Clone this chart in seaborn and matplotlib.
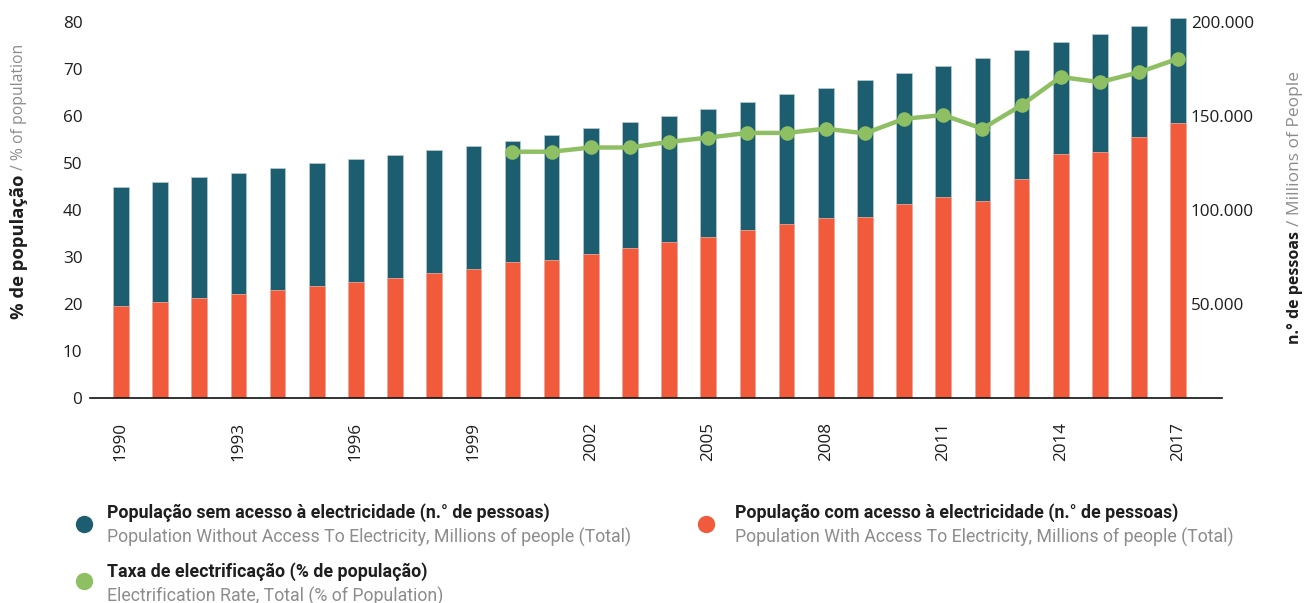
import numpy as np
import pandas as pd
import matplotlib
matplotlib.use("Agg")
import matplotlib.pyplot as plt
import seaborn as sns
from matplotlib.lines import Line2D
from matplotlib.ticker import FuncFormatter

# ---------------- data ----------------
years = list(range(1990, 2018))
with_access = [48900, 50900, 53000, 55200, 57400, 59600, 61900, 63800, 66300, 68800,
               72200, 73600, 76600, 79600, 82800, 85800, 89200, 92400, 95800, 96200,
               103200, 106900, 104800, 116300, 129800, 130700, 138800, 146400]
without_access = [63500, 63800, 64400, 64700, 65100, 65300, 65400, 65500, 65500, 65300,
                  64600, 66300, 66900, 67200, 67400, 68100, 68400, 69200, 69300, 72800,
                  69800, 69900, 76100, 68700, 59600, 62800, 59100, 55900]
rate_years = list(range(2000, 2018))
rate = [52.4, 52.4, 53.3, 53.3, 54.5, 55.4, 56.4, 56.4, 57.3, 56.3,
        59.4, 60.2, 57.3, 62.3, 68.3, 67.2, 69.3, 72.2]

x_tick_years = years[::3]
left_ticks = [0, 10, 20, 30, 40, 50, 60, 70, 80]
right_ticks = [50000, 100000, 150000, 200000]

leg_bold = ["População sem acesso à electricidade (n.° de pessoas)",
            "População com acesso à electricidade (n.° de pessoas)",
            "Taxa de electrificação (% de população)"]
leg_gray = ["Population Without Access To Electricity, Millions of people (Total)",
            "Population With Access To Electricity, Millions of people (Total)",
            "Electrification Rate, Total (% of Population)"]

DARK = "#1c5d6f"
ORANGE = "#f15a3a"
GREEN = "#8fbf63"
TXT = "#1e1e1e"
GRAY = "#8c8c8c"

# ---------------- figure ----------------
sns.set_theme(style="white")
plt.rcParams["font.family"] = ["Open Sans", "DejaVu Sans"]

W, H = 1311, 603
fig = plt.figure(figsize=(W / 100, H / 100), dpi=100)
fx = lambda x: x / W
fy = lambda y: 1 - y / H

ax_l, ax_r, ax_t, ax_b = 90, 1222, 16, 398
ax = fig.add_axes([fx(ax_l), fy(ax_b), fx(ax_r - ax_l), (ax_b - ax_t) / H])

df = pd.DataFrame({"year": years, "with": with_access, "without": without_access})
df["total"] = df["with"] + df["without"]

sns.barplot(data=df, x="year", y="total", native_scale=True, width=0.4, color=DARK,
            saturation=1, errorbar=None, ax=ax, edgecolor="#b9ccd2", linewidth=0.5)
sns.barplot(data=df, x="year", y="with", native_scale=True, width=0.4, color=ORANGE,
            saturation=1, errorbar=None, ax=ax, edgecolor="#f7b5a5", linewidth=0.5)

pct_top = (ax_b - ax_t) / 4.7
ax.set_ylim(0, pct_top * 2500)
ax.set_xlim(years[0] - 0.79, years[-1] + 1.12)

ax2 = ax.twinx()
sns.lineplot(x=rate_years, y=rate, ax=ax2, color=GREEN, linewidth=3.2, marker="o",
             markersize=10.5, markeredgewidth=0, markerfacecolor=GREEN)
ax2.set_ylim(0, pct_top)

# axes positions of tick labels
ax.yaxis.tick_right()
ax2.yaxis.tick_left()

TICK = 12.3
ax.set_yticks(right_ticks)
ax.yaxis.set_major_formatter(FuncFormatter(lambda v, p: f"{int(v):,}".replace(",", ".")))
ax.tick_params(axis="y", length=0, pad=-22.5, labelsize=TICK, labelcolor=TXT)
for lab in ax.get_yticklabels():
    lab.set_ha("left")

ax2.set_yticks(left_ticks)
ax2.tick_params(axis="y", length=0, pad=5.5, labelsize=TICK, labelcolor=TXT)

ax.set_xticks(x_tick_years)
ax.set_xticklabels([str(y) for y in x_tick_years], rotation=90)
ax.tick_params(axis="x", length=0, pad=17, labelsize=TICK, labelcolor=TXT)

for a in (ax, ax2):
    a.set_xlabel("")
    a.set_ylabel("")
    a.grid(False)
    for s in a.spines.values():
        s.set_visible(False)
ax.spines["bottom"].set_visible(True)
ax.spines["bottom"].set_color("#111111")
ax.spines["bottom"].set_linewidth(1.2)

# ---------------- axis titles (two-style, rotated) ----------------
def vlabel(xc, ybottom, bold, rest, bsize, rsize):
    t1 = fig.text(fx(xc), fy(ybottom), bold, rotation=90, ha="center", va="bottom",
                  fontsize=bsize, fontweight="bold", color=TXT)
    fig.canvas.draw()
    bb = t1.get_window_extent()
    fig.text(fx(xc), (bb.y1 + 5) / H, "/ " + rest, rotation=90, ha="center", va="bottom",
             fontsize=rsize, color=GRAY)

vlabel(19, 319, "% de população", "% of population", 13.2, 11.3)
vlabel(1295, 344, "n.° de pessoas", "Millions of People", 11.5, 12.5)

# ---------------- legend ----------------
leg_font = ["Roboto", "DejaVu Sans"]
LEG = 12.8
items = [(84, 524, 107, 513, DARK, 0), (706, 524, 735, 513, ORANGE, 1), (84, 581, 107, 572, GREEN, 2)]
for cx, cy, tx, ty, col, i in items:
    fig.add_artist(Line2D([fx(cx)], [fy(cy)], transform=fig.transFigure, marker="o",
                          markersize=12.5, color=col, linestyle="", markeredgewidth=0))
    fig.text(fx(tx), fy(ty), leg_bold[i], ha="left", va="center", fontsize=LEG,
             fontweight="bold", color=TXT, family=leg_font)
    fig.text(fx(tx), fy(ty + 24), leg_gray[i], ha="left", va="center", fontsize=LEG,
             color=GRAY, family=leg_font)

fig.savefig("out.png", dpi=100)
